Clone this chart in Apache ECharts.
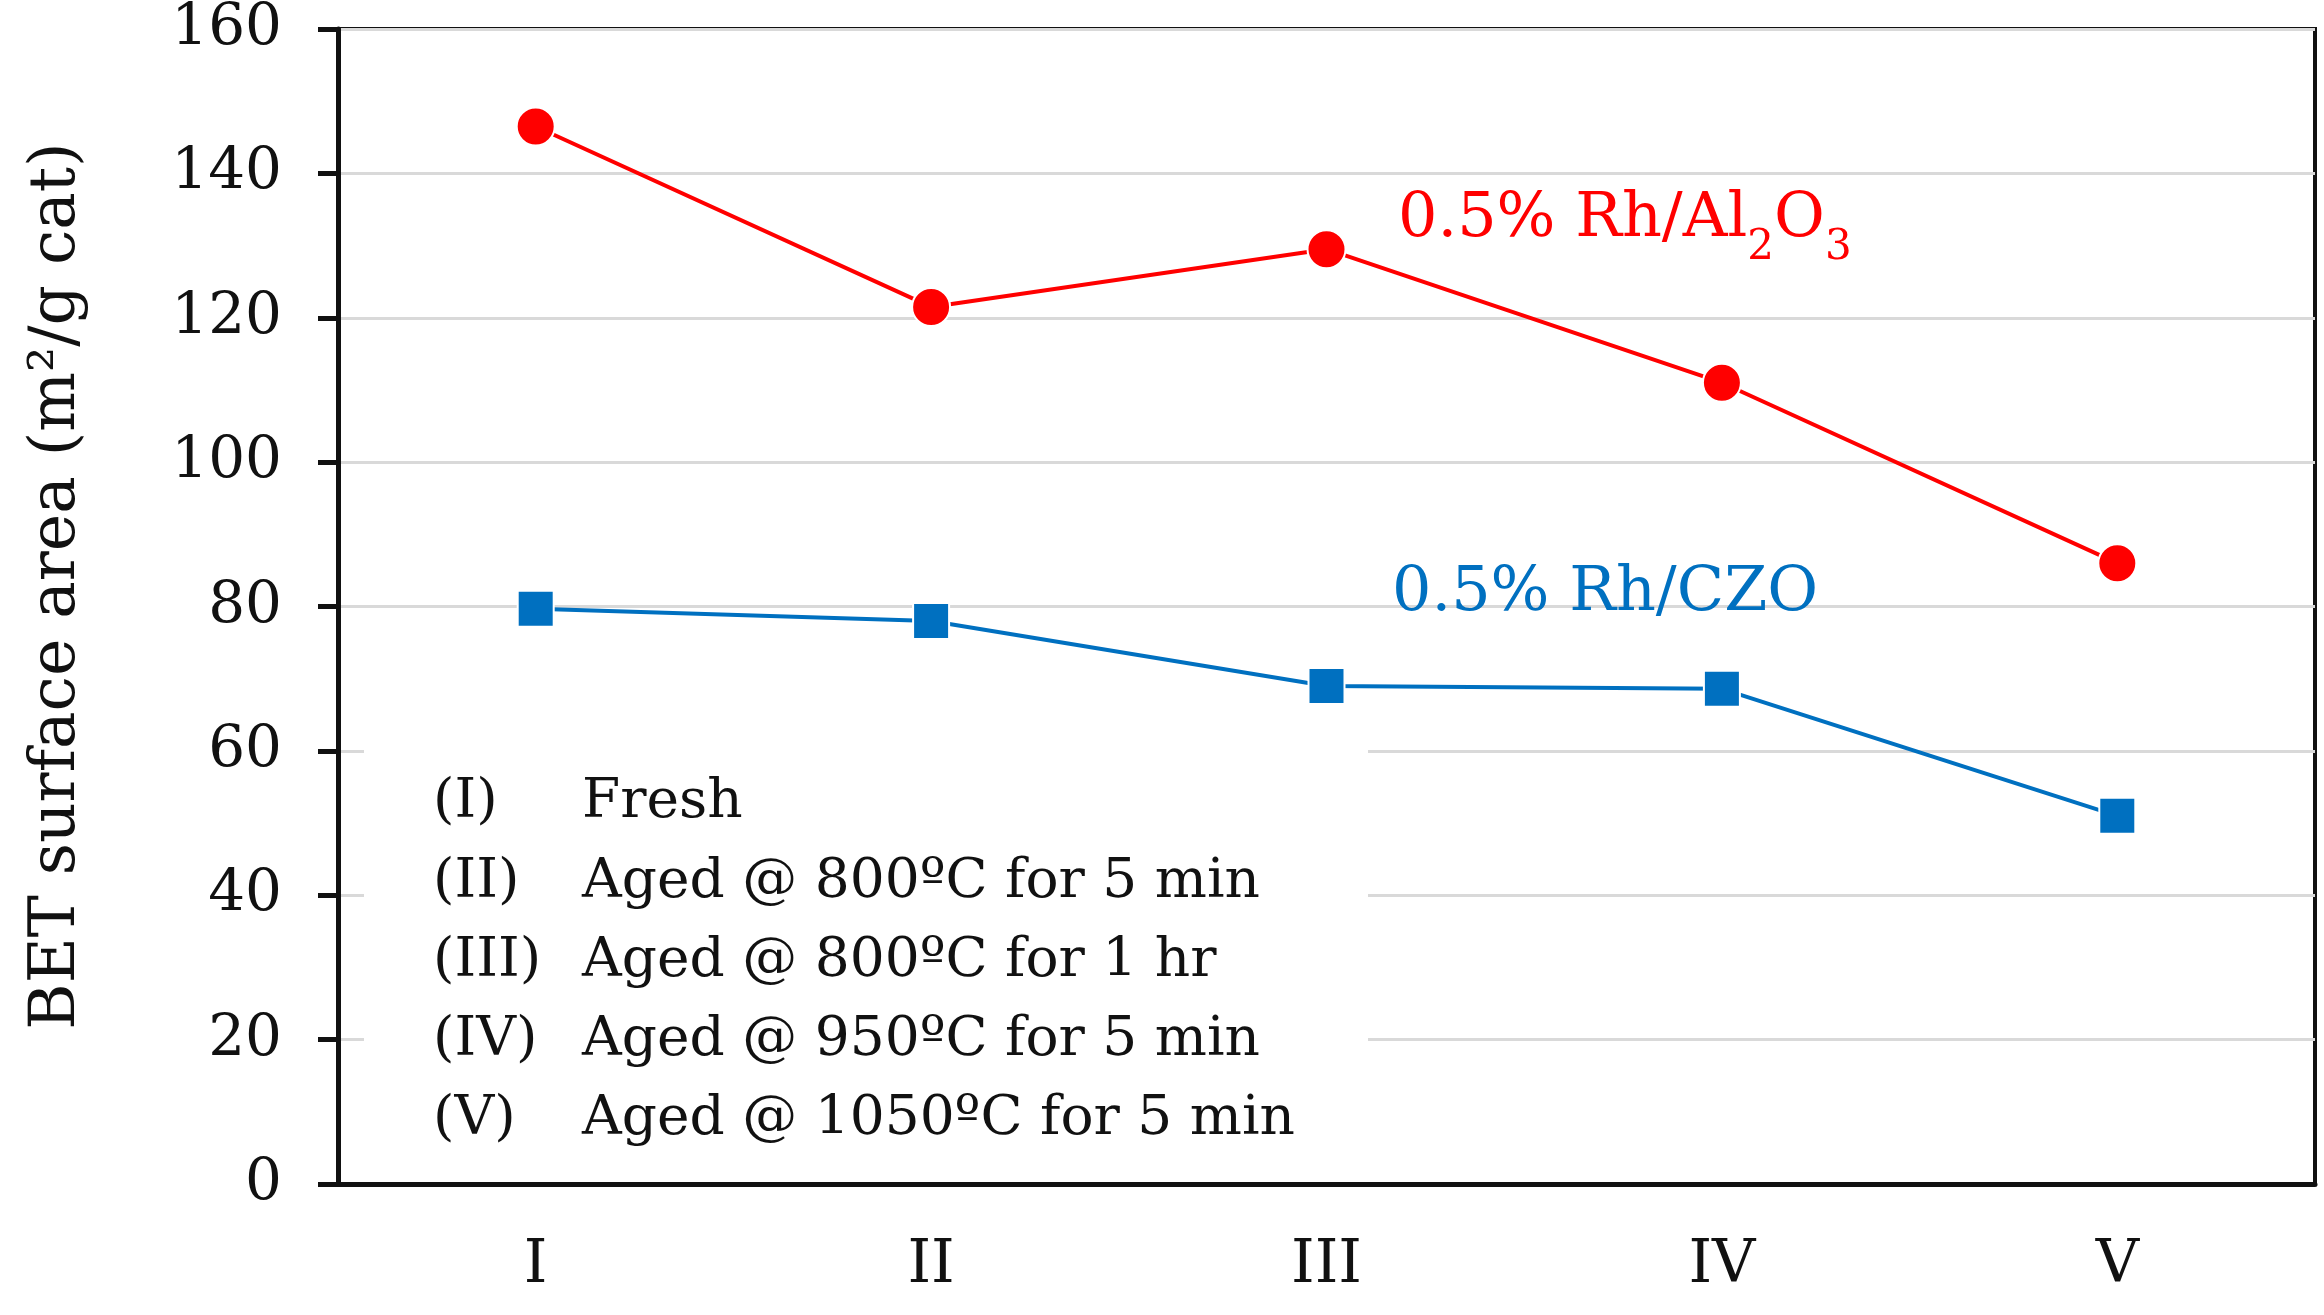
<!DOCTYPE html>
<html>
<head>
<meta charset="utf-8">
<script src="https://cdn.jsdelivr.net/npm/echarts@6/dist/echarts.min.js"></script>
<style>
html,body{margin:0;padding:0;background:#fff;}
#c{width:2324px;height:1315px;}
</style>
</head>
<body>
<div id="c"></div>
<script>
const categories = ['I', 'II', 'III', 'IV', 'V'];
const al2o3Values = [146.5, 121.5, 129.5, 111, 86];
const czoValues = [79.7, 78, 69, 68.6, 51];
const yTicks = [0, 20, 40, 60, 80, 100, 120, 140, 160];
const legendCodes = ['(I)', '(II)', '(III)', '(IV)', '(V)'];
const legendTexts = ['Fresh', 'Aged @ 800ºC for 5 min', 'Aged @ 800ºC for 1 hr', 'Aged @ 950ºC for 5 min', 'Aged @ 1050ºC for 5 min'];
const al2o3Name = '0.5% Rh/Al2O3';
const czoName = '0.5% Rh/CZO';
const yAxisTitle = 'BET surface area (m²/g cat)';

const FONT = 'DejaVu Serif';
const chart = echarts.init(document.getElementById('c'), null, {renderer: 'canvas'});

const legendTop = 803, legendStep = 79.3;
const graphics = [
  {type: 'rect', z: 1, shape: {x: 364, y: 700, width: 1004, height: 450}, style: {fill: '#fff'}}
];
legendCodes.forEach((c, i) => {
  graphics.push({type: 'text', z: 5, x: 433, y: legendTop + i * legendStep,
    style: {text: c, font: '55px "' + FONT + '"', fill: '#111', verticalAlign: 'middle', align: 'left'}});
  graphics.push({type: 'text', z: 5, x: 582, y: legendTop + i * legendStep,
    style: {text: legendTexts[i], font: '55px "' + FONT + '"', fill: '#111', verticalAlign: 'middle', align: 'left'}});
});
const subRich = (color) => ({
  a: {fontFamily: FONT, fontSize: 62, lineHeight: 74, fill: color, color: color, verticalAlign: 'top'},
  s: {fontFamily: FONT, fontSize: 42, lineHeight: 42, padding: [38, 0, 0, 0], fill: color, color: color, verticalAlign: 'top'}
});
graphics.push({type: 'text', z: 5, x: 1398, y: 226,
  style: {text: '{a|0.5% Rh/Al}{s|2}{a|O}{s|3}', rich: subRich('#ff0000'), fill: '#ff0000', verticalAlign: 'middle', align: 'left'}});
graphics.push({type: 'text', z: 5, x: 1392, y: 600,
  style: {text: '{a|' + czoName + '}', rich: subRich('#0070c0'), fill: '#0070c0', verticalAlign: 'middle', align: 'left'}});
graphics.push({type: 'text', z: 5, x: 58, y: 586, rotation: Math.PI / 2,
  style: {text: yAxisTitle, font: '63px "' + FONT + '"', fill: '#111', verticalAlign: 'middle', align: 'center'}});

chart.setOption({
  animation: false,
  backgroundColor: '#fff',
  grid: {left: 338, right: 9, top: 27, bottom: 131, show: true, borderColor: '#111', borderWidth: 4, containLabel: false},
  xAxis: {
    type: 'category',
    data: categories,
    boundaryGap: true,
    axisLine: {show: true, lineStyle: {color: '#111', width: 5}},
    axisTick: {show: false},
    axisLabel: {fontFamily: FONT, fontSize: 60, color: '#111', margin: 52},
    splitLine: {show: false}
  },
  yAxis: {
    type: 'value',
    min: yTicks[0],
    max: yTicks[yTicks.length - 1],
    interval: 20,
    axisLine: {show: true, lineStyle: {color: '#111', width: 5}},
    axisTick: {show: true, length: 20, lineStyle: {color: '#111', width: 5}},
    axisLabel: {fontFamily: FONT, fontSize: 58, color: '#111', margin: 56},
    splitLine: {show: true, lineStyle: {color: '#d9d9d9', width: 3}}
  },
  series: [
    {
      name: al2o3Name, type: 'line', data: al2o3Values, z: 3,
      symbol: 'circle', symbolSize: 38,
      lineStyle: {color: '#ff0000', width: 4},
      itemStyle: {color: '#ff0000', borderColor: '#fff', borderWidth: 2}
    },
    {
      name: czoName, type: 'line', data: czoValues, z: 3,
      symbol: 'rect', symbolSize: 36,
      lineStyle: {color: '#0070c0', width: 4},
      itemStyle: {color: '#0070c0', borderColor: '#fff', borderWidth: 2}
    }
  ],
  graphic: graphics
});
</script>
</body>
</html>
